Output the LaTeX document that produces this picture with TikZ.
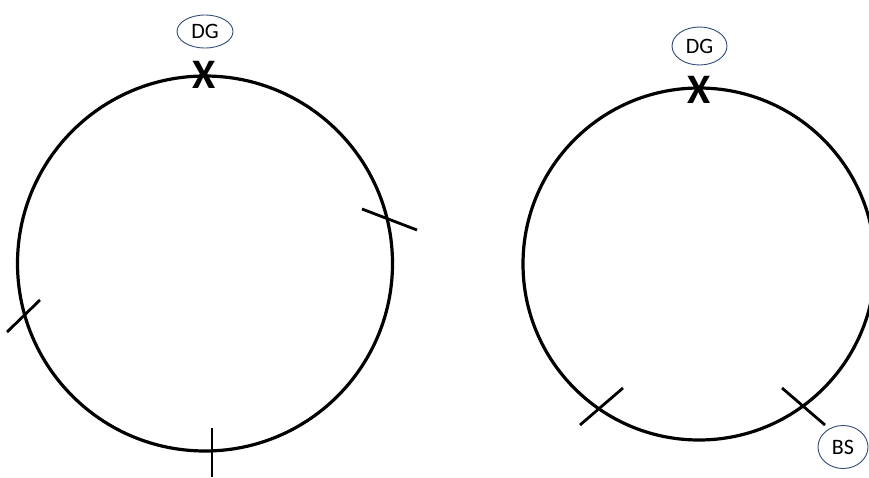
\documentclass[tikz,border=0pt]{standalone}
\usepackage{fontspec}
\setmainfont{Carlito}
\usetikzlibrary{shapes.geometric}
\definecolor{ovl}{RGB}{50,74,120}
\begin{document}
\begin{tikzpicture}[x=1pt,y=-1pt,
  ring/.style={circle,draw=black,line width=3.2pt,inner sep=0pt},
  tick/.style={draw=black,line width=2.8pt},
  tag/.style={ellipse,draw=ovl,line width=0.9pt,inner sep=0pt,font=\fontsize{22}{24}\selectfont},
  cross/.style={inner sep=0pt,font=\fontsize{42}{44}\selectfont\bfseries}]
\useasboundingbox (0,0) rectangle (869,477);
% left ring
\node[ring,minimum size=375pt] (L) at (205,263.5) {};
\node[tag,minimum width=56pt,minimum height=33pt] (dgL) at (205,31.5) {DG};
\node[cross] (xL) at (204,75) {X};
\coordinate (l1a) at (362,209); \coordinate (l1b) at (417,230);
\coordinate (l2a) at (7,332); \coordinate (l2b) at (40,300);
\coordinate (l3a) at (212,428); \coordinate (l3b) at (212,477);
\draw[tick] (l1a) -- (l1b);
\draw[tick] (l2a) -- (l2b);
\draw[tick] (l3a) -- (l3b);
% right ring
\node[ring,minimum size=352pt] (R) at (699,264) {};
\node[tag,minimum width=55pt,minimum height=38pt] (dgR) at (699.5,46) {DG};
\node[cross] (xR) at (699,89.5) {X};
\coordinate (r1a) at (580,425); \coordinate (r1b) at (623,388);
\coordinate (r2a) at (782,388); \coordinate (r2b) at (825,425);
\draw[tick] (r1a) -- (r1b);
\draw[tick] (r2a) -- (r2b);
\node[tag,minimum width=50pt,minimum height=43pt] (bs) at (843,447) {BS};
\end{tikzpicture}
\end{document}
